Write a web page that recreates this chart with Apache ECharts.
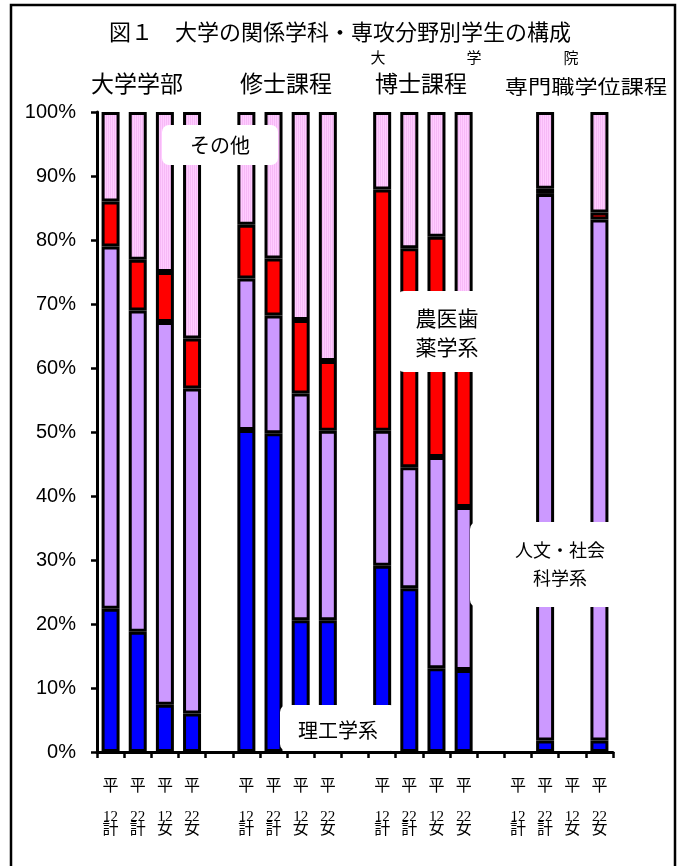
<!DOCTYPE html>
<html>
<head>
<meta charset="utf-8">
<script src="https://cdn.jsdelivr.net/npm/echarts@6/dist/echarts.min.js"></script>
<style>
  html, body { margin: 0; padding: 0; background: #fff; }
  #chart { width: 678px; height: 866px; }
</style>
</head>
<body>
<div id="chart"></div>
<script>
// Category labels (19 slots: four groups of four bars, with empty gap slots)
const yearLabels  = ['12','22','12','22','', '12','22','12','22','', '12','22','12','22','', '12','22','12','22'];
const groupLabels = ['計','計','女','女','', '計','計','女','女','', '計','計','女','女','', '計','計','女','女'];

// Shares by field (%), bottom to top of each stacked bar
const science    = [22.4, 18.8, 7.4, 6.0, null, 50.3, 49.8, 20.6, 20.6, null, 29.1, 25.6, 13.1, 12.8, null, null, 1.8, null, 1.8];
const humanities = [56.6, 50.2, 59.8, 50.8, null, 23.7, 18.4, 35.4, 29.6, null, 21.1, 18.9, 33.0, 25.5, null, null, 85.4, null, 81.4];
const medical    = [7.0, 7.9, 7.8, 7.8, null, 8.4, 8.9, 11.5, 10.9, null, 37.7, 34.2, 34.4, 30.7, null, null, 0.8, null, 1.1];
const other      = [14.0, 23.1, 25.0, 35.4, null, 17.6, 22.9, 32.5, 38.9, null, 12.1, 21.3, 19.5, 31.0, null, null, 12.0, null, 15.7];

const yTicks = [0, 10, 20, 30, 40, 50, 60, 70, 80, 90, 100];

// Fine striped fill for the "その他" segments
function stripePattern() {
  const c = document.createElement('canvas');
  c.width = 4; c.height = 4;
  const g = c.getContext('2d');
  g.fillStyle = '#ffccff'; g.fillRect(0, 0, 4, 4);
  g.fillStyle = '#f6b9f6'; g.fillRect(0, 0, 1, 4); g.fillRect(2, 0, 1, 4);
  return { image: c, repeat: 'repeat' };
}

const CJK = '"Noto Sans CJK JP", sans-serif';
const chart = echarts.init(document.getElementById('chart'), null, { renderer: 'canvas' });

function segment(name, data, color) {
  return {
    name, type: 'bar', stack: 'all', data,
    barWidth: 18,
    itemStyle: { color, borderColor: '#000', borderWidth: 3 },
    emphasis: { disabled: true }
  };
}

function txt(x, y, text, size, extra) {
  return Object.assign({
    type: 'text', x, y, z: 120,
    style: {
      text, font: size + 'px ' + CJK, fill: '#000',
      align: 'center', verticalAlign: 'middle',
      textAlign: 'center', textVerticalAlign: 'middle'
    }
  }, extra || {});
}

function box(x, y, w, h) {
  return { type: 'rect', z: 110, shape: { x, y, width: w, height: h, r: 7 }, style: { fill: '#fff' } };
}

chart.setOption({
  animation: false,
  backgroundColor: '#fff',
  grid: { left: 97, right: 65, top: 112, bottom: 114, containLabel: false },
  xAxis: {
    type: 'category',
    data: yearLabels.map((y, i) => y ? '平' + y + groupLabels[i] : ''),
    boundaryGap: true,
    axisLine: { lineStyle: { color: '#000', width: 3 } },
    axisTick: { show: true, interval: 0, length: 6, lineStyle: { color: '#000', width: 2.5 } },
    axisLabel: {
      interval: 0, margin: 6, color: '#000',
      formatter: (v, i) => yearLabels[i] ? '{a|平}\n{b|' + yearLabels[i] + '}\n{c|' + groupLabels[i] + '}' : '',
      rich: {
        a: { fontFamily: CJK, fontSize: 16, lineHeight: 54, color: '#000' },
        b: { fontFamily: '"Liberation Serif", serif', fontSize: 15, lineHeight: 10, color: '#000' },
        c: { fontFamily: CJK, fontSize: 16, lineHeight: 12, color: '#000' }
      }
    },
    splitLine: { show: false }
  },
  yAxis: {
    type: 'value', min: yTicks[0], max: yTicks[yTicks.length - 1], interval: 10,
    axisLine: { show: true, lineStyle: { color: '#000', width: 3 } },
    axisTick: { show: true, length: 6, lineStyle: { color: '#000', width: 2.5 } },
    axisLabel: {
      margin: 21, color: '#000',
      fontFamily: '"Liberation Sans", sans-serif', fontSize: 20,
      formatter: '{value}%'
    },
    splitLine: { show: false }
  },
  series: [
    segment('理工学系', science, '#0000ff'),
    segment('人文・社会科学系', humanities, '#cc99ff'),
    segment('農医歯薬学系', medical, '#ff0000'),
    segment('その他', other, stripePattern())
  ],
  graphic: [
    { type: 'rect', z: 1, shape: { x: 11, y: 5, width: 664, height: 880 }, style: { fill: 'none', stroke: '#000', lineWidth: 2.5 } },
    txt(340, 32, '図１　大学の関係学科・専攻分野別学生の構成', 22),
    txt(378, 57, '大', 15), txt(474, 57, '学', 15), txt(571, 57, '院', 15),
    txt(137, 83, '大学学部', 23),
    txt(286, 83, '修士課程', 23),
    txt(421, 83, '博士課程', 23),
    txt(586, 87, '専門職学位課程', 19, { scaleX: 1.22, originX: 0, originY: 0 }),
    box(162, 125, 116, 40), txt(220, 145, 'その他', 20),
    box(397, 291, 101, 81), txt(447, 318, '農医歯', 21), txt(447, 347, '薬学系', 21),
    box(280, 705, 117, 46), txt(338, 730, '理工学系', 20),
    box(470, 522, 180, 85), txt(560, 550, '人文・社会', 18), txt(560, 578, '科学系', 18)
  ]
});
</script>
</body>
</html>
